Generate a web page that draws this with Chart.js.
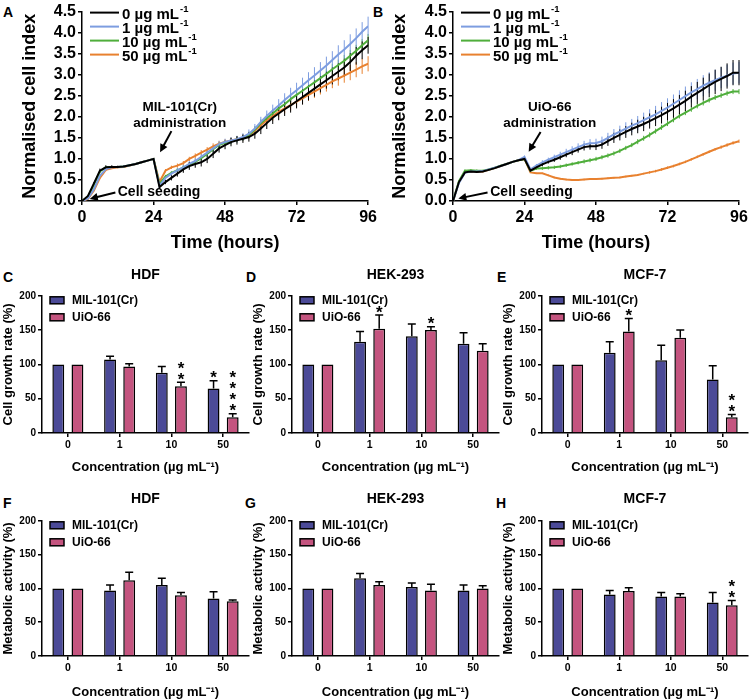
<!DOCTYPE html>
<html>
<head>
<meta charset="utf-8">
<script src="https://cdn.jsdelivr.net/npm/chart.js@4.4.1/dist/chart.umd.min.js"></script>
<style>
body { margin: 0; background: #fff; width: 751px; height: 700px; position: relative; overflow: hidden; font-family: 'Liberation Sans', Arial, sans-serif; }
canvas { position: absolute; }
.lbl { position: absolute; font-weight: bold; font-size: 14px; line-height: 14px; }
</style>
</head>
<body>
<div class="lbl" style="left:3px;top:5px">A</div>
<div class="lbl" style="left:373px;top:5px">B</div>
<div class="lbl" style="left:3px;top:270px">C</div>
<div class="lbl" style="left:246px;top:270px">D</div>
<div class="lbl" style="left:497px;top:270px">E</div>
<div class="lbl" style="left:3px;top:496px">F</div>
<div class="lbl" style="left:245px;top:496px">G</div>
<div class="lbl" style="left:496px;top:496px">H</div>

<canvas id="chartA" style="left:0;top:0" width="380" height="262"></canvas>
<canvas id="chartB" style="left:370px;top:0" width="381" height="262"></canvas>
<canvas id="chartC" style="left:0;top:262px" width="252" height="220"></canvas>
<canvas id="chartD" style="left:250px;top:262px" width="252" height="220"></canvas>
<canvas id="chartE" style="left:500px;top:262px" width="251" height="220"></canvas>
<canvas id="chartF" style="left:0;top:487px" width="252" height="213"></canvas>
<canvas id="chartG" style="left:250px;top:487px" width="252" height="213"></canvas>
<canvas id="chartH" style="left:500px;top:487px" width="251" height="213"></canvas>

<script>
// --- cell index curves (A: MIL-101(Cr), B: UiO-66), sampled every 2 h ---
const hours = [0, 2, 4, 6, 8, 10, 12, 14, 16, 18, 20, 22, 24,
    26, 28, 30, 32, 34, 36, 38, 40, 42, 44, 46, 48,
    50, 52, 54, 56, 58, 60, 62, 64, 66, 68, 70, 72,
    74, 76, 78, 80, 82, 84, 86, 88, 90, 92, 94, 96];
const concs = ['0', '1', '10', '50'];

const milCtrl = [0, 0.12, 0.42, 0.72, 0.80, 0.81, 0.81, 0.82, 0.85, 0.88, 0.92, 0.96, 1.00,
    0.33, 0.45, 0.55, 0.65, 0.75, 0.83, 0.88, 0.92, 1.00, 1.12, 1.25, 1.33,
    1.40, 1.44, 1.48, 1.52, 1.60, 1.72, 1.85, 1.98, 2.08, 2.18, 2.27, 2.37,
    2.47, 2.57, 2.67, 2.77, 2.87, 2.97, 3.07, 3.17, 3.30, 3.45, 3.58, 3.70];
const milCtrlErr = [0, 0.02, 0.03, 0.05, 0.05, 0.04, 0.03, 0.03, 0.02, 0.02, 0.02, 0.01, 0,
    0.04, 0.05, 0.06, 0.07, 0.08, 0.09, 0.09, 0.10, 0.10, 0.10, 0.10, 0.10,
    0.10, 0.10, 0.10, 0.11, 0.12, 0.13, 0.14, 0.15, 0.16, 0.16, 0.17, 0.17,
    0.18, 0.18, 0.19, 0.19, 0.20, 0.20, 0.20, 0.21, 0.21, 0.21, 0.21, 0.20];
const mil1 = [0, 0.06, 0.28, 0.60, 0.76, 0.80, 0.81, 0.82, 0.85, 0.88, 0.92, 0.96, 1.00,
    0.36, 0.55, 0.65, 0.73, 0.80, 0.88, 0.95, 1.05, 1.15, 1.25, 1.35, 1.40,
    1.44, 1.47, 1.52, 1.60, 1.72, 1.88, 2.02, 2.15, 2.27, 2.40, 2.52, 2.63,
    2.75, 2.87, 2.98, 3.10, 3.22, 3.35, 3.48, 3.60, 3.73, 3.87, 4.02, 4.15];
const mil1Err = [0, 0.01, 0.02, 0.03, 0.03, 0.02, 0.02, 0.02, 0.02, 0.01, 0.01, 0.01, 0,
    0.03, 0.04, 0.05, 0.06, 0.06, 0.07, 0.07, 0.08, 0.08, 0.08, 0.08, 0.08,
    0.08, 0.08, 0.09, 0.10, 0.11, 0.12, 0.13, 0.14, 0.15, 0.16, 0.17, 0.18,
    0.18, 0.19, 0.20, 0.20, 0.21, 0.21, 0.22, 0.22, 0.23, 0.23, 0.23, 0.23];
const mil10 = [0, 0.10, 0.38, 0.70, 0.80, 0.81, 0.81, 0.82, 0.85, 0.88, 0.92, 0.96, 1.00,
    0.40, 0.58, 0.67, 0.73, 0.80, 0.86, 0.93, 1.02, 1.12, 1.23, 1.33, 1.38,
    1.42, 1.46, 1.50, 1.57, 1.70, 1.85, 1.97, 2.08, 2.20, 2.30, 2.42, 2.52,
    2.62, 2.72, 2.82, 2.92, 3.02, 3.13, 3.23, 3.33, 3.45, 3.57, 3.70, 3.82];
const mil10Err = [0, 0.01, 0.02, 0.03, 0.03, 0.02, 0.02, 0.02, 0.01, 0.01, 0.01, 0.01, 0,
    0.03, 0.04, 0.04, 0.05, 0.05, 0.06, 0.06, 0.06, 0.07, 0.07, 0.07, 0.07,
    0.07, 0.07, 0.07, 0.08, 0.08, 0.09, 0.09, 0.10, 0.10, 0.10, 0.11, 0.11,
    0.11, 0.12, 0.12, 0.12, 0.13, 0.13, 0.13, 0.14, 0.14, 0.14, 0.15, 0.15];
const mil50 = [0, 0.05, 0.25, 0.55, 0.74, 0.78, 0.80, 0.81, 0.84, 0.88, 0.92, 0.96, 1.00,
    0.45, 0.72, 0.80, 0.84, 0.90, 1.00, 1.07, 1.15, 1.22, 1.30, 1.36, 1.40,
    1.44, 1.47, 1.50, 1.56, 1.67, 1.80, 1.92, 2.02, 2.12, 2.20, 2.28, 2.36,
    2.44, 2.52, 2.60, 2.68, 2.76, 2.84, 2.91, 2.98, 3.05, 3.12, 3.20, 3.26];
const mil50Err = [0, 0.01, 0.02, 0.03, 0.03, 0.02, 0.02, 0.02, 0.01, 0.01, 0.01, 0.01, 0,
    0.03, 0.04, 0.04, 0.05, 0.05, 0.05, 0.06, 0.06, 0.06, 0.07, 0.07, 0.07,
    0.07, 0.07, 0.08, 0.08, 0.09, 0.10, 0.10, 0.11, 0.12, 0.12, 0.13, 0.13,
    0.14, 0.14, 0.15, 0.15, 0.16, 0.16, 0.17, 0.17, 0.18, 0.18, 0.18, 0.18];

const uioCtrl = [0, 0.45, 0.68, 0.70, 0.69, 0.70, 0.74, 0.78, 0.83, 0.88, 0.93, 0.97, 1.00,
    0.72, 0.80, 0.87, 0.93, 0.98, 1.04, 1.10, 1.16, 1.22, 1.28, 1.30, 1.30,
    1.34, 1.42, 1.50, 1.57, 1.64, 1.71, 1.77, 1.83, 1.90, 1.97, 2.04, 2.12,
    2.20, 2.29, 2.38, 2.48, 2.57, 2.66, 2.75, 2.83, 2.90, 2.97, 3.05, 3.05];
const uioCtrlErr = [0, 0.02, 0.02, 0.02, 0.02, 0.02, 0.01, 0.01, 0.01, 0.01, 0.01, 0.01, 0,
    0.02, 0.03, 0.04, 0.04, 0.05, 0.06, 0.06, 0.07, 0.07, 0.08, 0.08, 0.09,
    0.10, 0.11, 0.12, 0.13, 0.14, 0.15, 0.16, 0.17, 0.18, 0.19, 0.20, 0.21,
    0.22, 0.23, 0.24, 0.25, 0.26, 0.27, 0.28, 0.29, 0.29, 0.30, 0.30, 0.30];
const uio1 = [0, 0.43, 0.67, 0.70, 0.70, 0.71, 0.75, 0.79, 0.83, 0.88, 0.93, 0.97, 1.05,
    0.75, 0.84, 0.92, 0.98, 1.04, 1.10, 1.16, 1.22, 1.28, 1.34, 1.37, 1.38,
    1.42, 1.50, 1.58, 1.65, 1.72, 1.79, 1.85, 1.92, 1.99, 2.06, 2.14, 2.22,
    2.31, 2.40, 2.49, 2.58, 2.66, 2.74, 2.81, 2.87, 2.93, 2.98, 3.03, 3.05];
const uio1Err = [0, 0.02, 0.02, 0.02, 0.02, 0.02, 0.01, 0.01, 0.01, 0.01, 0.01, 0.01, 0.03,
    0.03, 0.04, 0.05, 0.05, 0.06, 0.07, 0.08, 0.08, 0.09, 0.09, 0.10, 0.10,
    0.11, 0.12, 0.13, 0.14, 0.15, 0.16, 0.17, 0.18, 0.19, 0.20, 0.21, 0.22,
    0.22, 0.23, 0.23, 0.24, 0.24, 0.25, 0.25, 0.25, 0.25, 0.26, 0.26, 0.26];
const uio10 = [0, 0.47, 0.72, 0.73, 0.72, 0.72, 0.75, 0.79, 0.84, 0.88, 0.93, 0.97, 1.00,
    0.72, 0.77, 0.78, 0.79, 0.80, 0.82, 0.85, 0.88, 0.91, 0.94, 0.97, 1.00,
    1.04, 1.08, 1.13, 1.19, 1.26, 1.33, 1.41, 1.49, 1.57, 1.66, 1.75, 1.84,
    1.93, 2.02, 2.10, 2.18, 2.26, 2.33, 2.40, 2.46, 2.51, 2.56, 2.60, 2.60];
const uio10Err = [0, 0.03, 0.03, 0.03, 0.03, 0.02, 0.02, 0.02, 0.01, 0.01, 0.01, 0.01, 0,
    0.02, 0.03, 0.04, 0.04, 0.04, 0.04, 0.04, 0.04, 0.04, 0.05, 0.05, 0.05,
    0.05, 0.05, 0.05, 0.05, 0.05, 0.05, 0.06, 0.06, 0.06, 0.06, 0.06, 0.06,
    0.06, 0.06, 0.06, 0.06, 0.06, 0.06, 0.06, 0.06, 0.06, 0.06, 0.06, 0.06];
const uio50 = [0, 0.45, 0.68, 0.70, 0.69, 0.70, 0.74, 0.78, 0.83, 0.88, 0.93, 0.97, 1.00,
    0.68, 0.66, 0.66, 0.61, 0.56, 0.53, 0.51, 0.50, 0.50, 0.51, 0.52, 0.52,
    0.53, 0.54, 0.55, 0.56, 0.58, 0.60, 0.62, 0.65, 0.68, 0.71, 0.75, 0.79,
    0.83, 0.88, 0.93, 0.99, 1.05, 1.11, 1.17, 1.23, 1.28, 1.33, 1.38, 1.42];
const uio50Err = [0, 0.01, 0.01, 0.01, 0.01, 0.01, 0.01, 0.01, 0.01, 0.01, 0.01, 0.01, 0,
    0.01, 0.01, 0.01, 0.02, 0.02, 0.02, 0.02, 0.02, 0.02, 0.02, 0.02, 0.02,
    0.02, 0.02, 0.02, 0.02, 0.02, 0.02, 0.02, 0.02, 0.03, 0.03, 0.03, 0.03,
    0.03, 0.03, 0.03, 0.03, 0.03, 0.03, 0.03, 0.03, 0.04, 0.04, 0.04, 0.04];

// --- bar panels (% of control) ---
const concLabels = ['0', '1', '10', '50'];

const hdfGrowthMil = [100, 107, 88, 65];
const hdfGrowthMilErr = [0, 5, 9, 11];
const hdfGrowthMilStars = [0, 0, 0, 1];
const hdfGrowthUio = [100, 97, 68, 23];
const hdfGrowthUioErr = [0, 4, 6, 5];
const hdfGrowthUioStars = [0, 0, 2, 4];

const hekGrowthMil = [100, 133, 141, 130];
const hekGrowthMilErr = [0, 15, 18, 16];
const hekGrowthMilStars = [0, 0, 0, 0];
const hekGrowthUio = [100, 152, 150, 120];
const hekGrowthUioErr = [0, 20, 5, 10];
const hekGrowthUioStars = [0, 1, 1, 0];

const mcfGrowthMil = [100, 117, 106, 78];
const mcfGrowthMilErr = [0, 16, 22, 20];
const mcfGrowthMilStars = [0, 0, 0, 0];
const mcfGrowthUio = [100, 148, 139, 23];
const mcfGrowthUioErr = [0, 19, 11, 4];
const mcfGrowthUioStars = [0, 1, 0, 2];

const hdfMetabMil = [100, 97, 105, 85];
const hdfMetabMilErr = [0, 8, 10, 10];
const hdfMetabUio = [100, 112, 90, 81];
const hdfMetabUioErr = [0, 12, 4, 2];

const hekMetabMil = [100, 115, 102, 97];
const hekMetabMilErr = [0, 7, 6, 8];
const hekMetabUio = [100, 105, 97, 100];
const hekMetabUioErr = [0, 5, 9, 4];

const mcfMetabMil = [100, 91, 88, 79];
const mcfMetabMilErr = [0, 6, 6, 15];
const mcfMetabUio = [100, 96, 88, 75];
const mcfMetabUioErr = [0, 5, 4, 7];
const mcfMetabUioStars = [0, 0, 0, 2];
const noStars = [0, 0, 0, 0];

const lineColors = ['#000000', '#7d9de0', '#4fae3b', '#e8812f'];
const milColor = '#4b4a97';
const uioColor = '#c4547f';
const FONT = "'Liberation Sans', Arial, sans-serif";

Chart.defaults.font.family = FONT;
Chart.defaults.font.weight = 'bold';
Chart.defaults.color = '#000';

// flecha simples com ponta cheia
function drawArrow(ctx, x1, y1, x2, y2) {
    const a = Math.atan2(y2 - y1, x2 - x1);
    const h = 8, w = 4;
    ctx.beginPath();
    ctx.moveTo(x1, y1);
    ctx.lineTo(x2 - Math.cos(a) * h * 0.7, y2 - Math.sin(a) * h * 0.7);
    ctx.stroke();
    ctx.beginPath();
    ctx.moveTo(x2, y2);
    ctx.lineTo(x2 - h * Math.cos(a) + w * Math.sin(a), y2 - h * Math.sin(a) - w * Math.cos(a));
    ctx.lineTo(x2 - h * Math.cos(a) - w * Math.sin(a), y2 - h * Math.sin(a) + w * Math.cos(a));
    ctx.closePath();
    ctx.fill();
}

// barras de erro verticais nas curvas
const errorLines = {
    id: 'errorLines',
    beforeDatasetsDraw(chart) {
        const ctx = chart.ctx;
        const ys = chart.scales.y;
        ctx.save();
        for (let i = chart.data.datasets.length - 1; i >= 0; i--) {
            const ds = chart.data.datasets[i];
            const meta = chart.getDatasetMeta(i);
            ctx.strokeStyle = ds.borderColor;
            ctx.lineWidth = 1;
            meta.data.forEach((pt, j) => {
                const e = ds.errors[j];
                if (!e) return;
                const v = ds.data[j].y;
                ctx.beginPath();
                ctx.moveTo(pt.x, ys.getPixelForValue(v - e));
                ctx.lineTo(pt.x, ys.getPixelForValue(v + e));
                ctx.stroke();
            });
        }
        ctx.restore();
    }
};

// legenda e anotações dos painéis A e B
const cellAnnot = {
    id: 'cellAnnot',
    afterDraw(chart, args, opts) {
        const { ctx, chartArea, scales: { x, y } } = chart;
        ctx.save();
        ctx.textBaseline = 'middle';
        chart.data.datasets.forEach((ds, i) => {
            const ry = chartArea.top + 1 + i * 14;
            ctx.strokeStyle = ds.borderColor;
            ctx.lineWidth = 2;
            ctx.beginPath();
            ctx.moveTo(chartArea.left + 8, ry);
            ctx.lineTo(chartArea.left + 37, ry);
            ctx.stroke();
            ctx.fillStyle = '#000';
            ctx.textAlign = 'left';
            ctx.font = 'bold 15px ' + FONT;
            const txt = ds.label + ' µg mL';
            ctx.fillText(txt, chartArea.left + 40, ry + 2);
            const w = ctx.measureText(txt).width;
            ctx.font = 'bold 9.5px ' + FONT;
            ctx.fillText('-1', chartArea.left + 41 + w, ry - 3);
        });

        ctx.fillStyle = '#000';
        ctx.strokeStyle = '#000';
        ctx.lineWidth = 2;
        ctx.font = 'bold 13.5px ' + FONT;
        ctx.textAlign = 'center';
        ctx.fillText(opts.agent, x.getPixelForValue(opts.textX), y.getPixelForValue(2.23));
        ctx.fillText('administration', x.getPixelForValue(opts.textX), y.getPixelForValue(1.85));
        const a = opts.agentArrow;
        drawArrow(ctx, x.getPixelForValue(a[0]), y.getPixelForValue(a[1]), x.getPixelForValue(a[2]), y.getPixelForValue(a[3]));

        ctx.textAlign = 'left';
        ctx.font = 'bold 14px ' + FONT;
        ctx.fillText('Cell seeding', x.getPixelForValue(opts.seedX), y.getPixelForValue(0.2));
        const s = opts.seedArrow;
        drawArrow(ctx, x.getPixelForValue(s[0]), y.getPixelForValue(s[1]), x.getPixelForValue(s[2]), y.getPixelForValue(s[3]));
        ctx.restore();
    }
};

// barras de erro, asteriscos e legenda dos gráficos de barras
const barExtras = {
    id: 'barExtras',
    afterDatasetsDraw(chart) {
        const { ctx, chartArea, scales: { y } } = chart;
        ctx.save();
        ctx.strokeStyle = '#000';
        ctx.fillStyle = '#000';
        ctx.lineWidth = 1.5;
        chart.data.datasets.forEach((ds, i) => {
            chart.getDatasetMeta(i).data.forEach((bar, j) => {
                const top = y.getPixelForValue(ds.data[j] + ds.errors[j]);
                if (ds.errors[j] > 0) {
                    ctx.beginPath();
                    ctx.moveTo(bar.x, bar.y);
                    ctx.lineTo(bar.x, top);
                    ctx.moveTo(bar.x - 4, top);
                    ctx.lineTo(bar.x + 4, top);
                    ctx.stroke();
                }
                ctx.font = 'bold 17px ' + FONT;
                ctx.textAlign = 'center';
                ctx.textBaseline = 'alphabetic';
                for (let k = 0; k < ds.stars[j]; k++) {
                    const cy = top - 7 - k * 11;
                    ctx.fillText('*', bar.x, cy + 9.5);
                }
            });
        });

        chart.data.datasets.forEach((ds, i) => {
            const sy = chartArea.top + 1 + i * 17;
            ctx.fillStyle = ds.backgroundColor;
            ctx.fillRect(chartArea.left + 8, sy, 14, 7);
            ctx.strokeRect(chartArea.left + 8, sy, 14, 7);
            ctx.fillStyle = '#000';
            ctx.font = 'bold 12px ' + FONT;
            ctx.textAlign = 'left';
            ctx.textBaseline = 'middle';
            ctx.fillText(ds.label, chartArea.left + 30, sy + 4);
        });
        ctx.restore();
    }
};

function axisStyle(size) {
    return {
        grid: { drawOnChartArea: false, color: '#000', lineWidth: 1.5, tickLength: 4 },
        border: { color: '#000', width: 1.5 },
        ticks: { color: '#000', font: { size: size, weight: 'bold' }, padding: 2, autoSkip: false }
    };
}

function makeLineChart(id, series, errs, annot, yWidth, padRight) {
    const datasets = series.map((vals, i) => ({
        label: concs[i],
        data: hours.map((h, j) => ({ x: h, y: vals[j] })),
        errors: errs[i],
        borderColor: lineColors[i],
        borderWidth: 2,
        pointRadius: 0,
        tension: 0
    }));
    const xAxis = axisStyle(16);
    const yAxis = axisStyle(16);
    new Chart(document.getElementById(id), {
        type: 'line',
        data: { datasets: datasets },
        options: {
            responsive: false,
            animation: false,
            layout: { padding: { top: 11, right: padRight, left: 0, bottom: 0 } },
            plugins: { legend: { display: false }, tooltip: { enabled: false }, cellAnnot: annot },
            scales: {
                x: Object.assign(xAxis, {
                    type: 'linear', min: 0, max: 96,
                    ticks: Object.assign(xAxis.ticks, { stepSize: 24, padding: 3 }),
                    title: { display: true, text: 'Time (hours)', color: '#000', font: { size: 18, weight: 'bold' }, padding: { top: 0, bottom: 8 } },
                    afterFit: s => { s.height = 61; }
                }),
                y: Object.assign(yAxis, {
                    min: 0, max: 4.5,
                    ticks: Object.assign(yAxis.ticks, { stepSize: 0.5, callback: v => v.toFixed(1) }),
                    title: { display: true, text: 'Normalised cell index', color: '#000', font: { size: 18, weight: 'bold' }, padding: { top: 19, bottom: 0 } },
                    afterFit: s => { s.width = yWidth; }
                })
            }
        },
        plugins: [errorLines, cellAnnot]
    });
}

function makeBarChart(id, titleText, yTitleText, mil, milErr, milStars, uio, uioErr, uioStars, row) {
    const xAxis = axisStyle(10.5);
    const yAxis = axisStyle(10);
    const top = row === 1 ? { top: 5, bottom: 12 } : { top: 4, bottom: 13 };
    new Chart(document.getElementById(id), {
        type: 'bar',
        data: {
            labels: concLabels,
            datasets: [
                { label: 'MIL-101(Cr)', data: mil, errors: milErr, stars: milStars, backgroundColor: milColor, borderColor: '#000', borderWidth: 1.5, barPercentage: 0.62, categoryPercentage: 0.74 },
                { label: 'UiO-66', data: uio, errors: uioErr, stars: uioStars, backgroundColor: uioColor, borderColor: '#000', borderWidth: 1.5, barPercentage: 0.62, categoryPercentage: 0.74 }
            ]
        },
        options: {
            responsive: false,
            animation: false,
            layout: { padding: { right: 3, left: 0 } },
            plugins: {
                legend: { display: false },
                tooltip: { enabled: false },
                title: { display: true, text: titleText, fullSize: false, color: '#000', font: { size: 14, weight: 'bold' }, padding: top }
            },
            scales: {
                x: Object.assign(xAxis, {
                    grid: Object.assign(xAxis.grid, { offset: false }),
                    title: { display: true, text: 'Concentration (µg mL⁻¹)', color: '#000', font: { size: 13, weight: 'bold' }, padding: { top: 0, bottom: row === 1 ? 7 : 0 } },
                    afterFit: s => { s.height = row === 1 ? 49 : 44; }
                }),
                y: Object.assign(yAxis, {
                    min: 0, max: 200,
                    ticks: Object.assign(yAxis.ticks, { stepSize: 50 }),
                    title: { display: true, text: yTitleText, color: '#000', font: { size: 13, weight: 'bold' }, padding: { top: 1, bottom: 0 } },
                    afterFit: s => { s.width = 42; }
                })
            }
        },
        plugins: [barExtras]
    });
}

makeLineChart('chartA', [milCtrl, mil1, mil10, mil50], [milCtrlErr, mil1Err, mil10Err, mil50Err],
    { agent: 'MIL-101(Cr)', textX: 32.8, agentArrow: [30, 1.66, 26.2, 1.16], seedX: 12, seedArrow: [11.2, 0.2, 2.6, 0.05] }, 82, 11);
makeLineChart('chartB', [uioCtrl, uio1, uio10, uio50], [uioCtrlErr, uio1Err, uio10Err, uio50Err],
    { agent: 'UiO-66', textX: 32.5, agentArrow: [29.4, 1.64, 25.4, 1.17], seedX: 12.5, seedArrow: [11.6, 0.2, 1.8, 0.06] }, 83, 12);

makeBarChart('chartC', 'HDF', 'Cell growth rate (%)', hdfGrowthMil, hdfGrowthMilErr, hdfGrowthMilStars, hdfGrowthUio, hdfGrowthUioErr, hdfGrowthUioStars, 1);
makeBarChart('chartD', 'HEK-293', 'Cell growth rate (%)', hekGrowthMil, hekGrowthMilErr, hekGrowthMilStars, hekGrowthUio, hekGrowthUioErr, hekGrowthUioStars, 1);
makeBarChart('chartE', 'MCF-7', 'Cell growth rate (%)', mcfGrowthMil, mcfGrowthMilErr, mcfGrowthMilStars, mcfGrowthUio, mcfGrowthUioErr, mcfGrowthUioStars, 1);
makeBarChart('chartF', 'HDF', 'Metabolic activity (%)', hdfMetabMil, hdfMetabMilErr, noStars, hdfMetabUio, hdfMetabUioErr, noStars, 2);
makeBarChart('chartG', 'HEK-293', 'Metabolic activity (%)', hekMetabMil, hekMetabMilErr, noStars, hekMetabUio, hekMetabUioErr, noStars, 2);
makeBarChart('chartH', 'MCF-7', 'Metabolic activity (%)', mcfMetabMil, mcfMetabMilErr, noStars, mcfMetabUio, mcfMetabUioErr, mcfMetabUioStars, 2);
</script>
</body>
</html>
